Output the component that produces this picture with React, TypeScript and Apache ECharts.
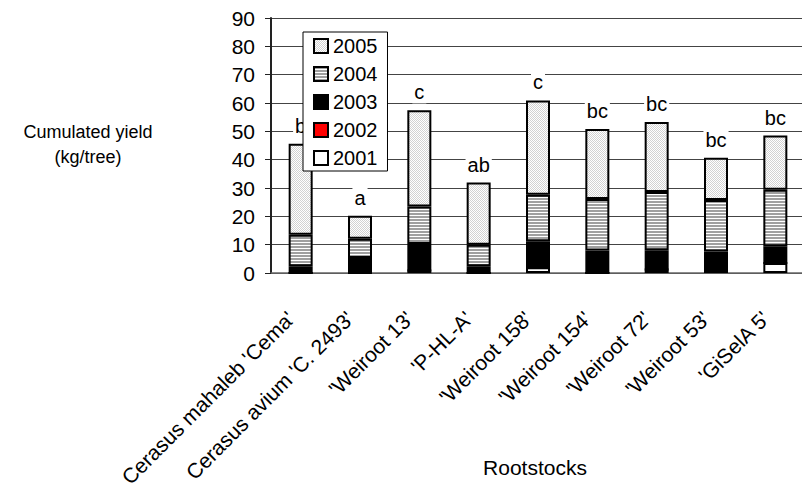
import React, { useEffect, useRef } from 'react';
import * as echarts from 'echarts';

const categories = [
  "Cerasus mahaleb 'Cema'",
  "Cerasus avium 'C. 2493'",
  "'Weiroot 13'",
  "'P-HL-A'",
  "'Weiroot 158'",
  "'Weiroot 154'",
  "'Weiroot 72'",
  "'Weiroot 53'",
  "'GiSelA 5'",
];
const years = ['2001', '2002', '2003', '2004', '2005'];
const y2001 = [0, 0, 0.9, 0, 2.0, 0, 1.2, 0.8, 3.5];
const y2002 = [0, 0, 0, 0, 0, 0, 0, 0, 0];
const y2003 = [2.4, 5.3, 9.3, 2.4, 9.2, 7.9, 6.8, 6.8, 5.9];
const y2004 = [11.1, 6.8, 13.3, 7.6, 16.4, 18.2, 20.6, 18.2, 20.0];
const y2005 = [32.1, 8.1, 33.9, 21.9, 33.3, 24.7, 24.7, 14.9, 19.1];
const letters = ['b', 'a', 'c', 'ab', 'c', 'bc', 'bc', 'bc', 'bc'];
const legendOrder = ['2005', '2004', '2003', '2002', '2001'];

const FONT = "'Liberation Sans', Arial, sans-serif";

function makePattern(w: number, h: number, draw: (ctx: CanvasRenderingContext2D) => void) {
  const c = document.createElement('canvas');
  c.width = w;
  c.height = h;
  const ctx = c.getContext('2d') as CanvasRenderingContext2D;
  draw(ctx);
  return { image: c.toDataURL(), repeat: 'repeat', imageWidth: w, imageHeight: h };
}

export default function App() {
  const ref = useRef<HTMLDivElement>(null);
  useEffect(() => {
    if (!ref.current) return;
    const chart = echarts.init(ref.current, null, { renderer: 'svg' });

    const dotted = makePattern(2, 2, (ctx) => {
      ctx.fillStyle = '#ffffff';
      ctx.fillRect(0, 0, 2, 2);
      ctx.fillStyle = '#d2d2d2';
      ctx.fillRect(0, 0, 1, 1);
      ctx.fillRect(1, 1, 1, 1);
    });
    const striped = makePattern(4, 3, (ctx) => {
      ctx.fillStyle = '#ffffff';
      ctx.fillRect(0, 0, 4, 3);
      ctx.fillStyle = '#a0a0a0';
      ctx.fillRect(0, 0, 4, 2);
    });

    const fills: Record<string, any> = {
      '2001': '#ffffff',
      '2002': '#ff0000',
      '2003': '#000000',
      '2004': striped,
      '2005': dotted,
    };
    const values: Record<string, number[]> = {
      '2001': y2001,
      '2002': y2002,
      '2003': y2003,
      '2004': y2004,
      '2005': y2005,
    };

    const series = years.map((yr) => ({
      name: yr,
      type: 'bar',
      stack: 'total',
      barWidth: 24,
      data: values[yr],
      itemStyle: { color: fills[yr], borderColor: '#000', borderWidth: 2 },
      label:
        yr === '2005'
          ? {
              show: true,
              position: 'top',
              distance: 7,
              formatter: (p: any) => letters[p.dataIndex],
              fontSize: 20,
              fontFamily: FONT,
              color: '#000',
              backgroundColor: '#fff',
              padding: [1, 2],
            }
          : { show: false },
      emphasis: { disabled: true },
    }));

    chart.setOption({
      animation: false,
      backgroundColor: '#fff',
      grid: {
        left: 271,
        top: 18,
        width: 534,
        height: 255,
        containLabel: false,
        outerBoundsMode: 'none',
      },
      legend: {
        orient: 'vertical',
        left: 303,
        top: 32,
        data: legendOrder,
        icon: 'rect',
        itemWidth: 14,
        itemHeight: 14,
        itemGap: 8,
        padding: [4, 10, 3, 10],
        backgroundColor: '#fff',
        borderColor: '#000',
        borderWidth: 1,
        borderRadius: 0,
        selectedMode: false,
        textStyle: { fontSize: 20, lineHeight: 20, color: '#000', fontFamily: FONT },
      },
      xAxis: {
        type: 'category',
        data: categories,
        axisLine: { lineStyle: { color: '#666', width: 1.5 } },
        axisTick: { length: 7, lineStyle: { color: '#666' } },
        axisLabel: {
          rotate: 45,
          interval: 0,
          fontSize: 21,
          fontFamily: FONT,
          color: '#000',
          margin: 32,
          padding: [0, 14, 0, 0],
        },
      },
      yAxis: {
        type: 'value',
        min: 0,
        max: 90,
        interval: 10,
        axisLine: { show: true, lineStyle: { color: '#222', width: 2 } },
        axisTick: { show: true, length: 6, lineStyle: { color: '#222' } },
        axisLabel: { fontSize: 21, fontFamily: FONT, color: '#000', margin: 16 },
        splitLine: { lineStyle: { color: '#444', width: 1 } },
      },
      graphic: [
        {
          type: 'text',
          left: 22,
          top: 119,
          style: {
            text: 'Cumulated yield\n(kg/tree)',
            fontSize: 18,
            lineHeight: 25,
            fontFamily: FONT,
            fill: '#000',
            textAlign: 'center',
            width: 132,
          },
        },
        {
          type: 'text',
          x: 535,
          y: 467,
          style: {
            text: 'Rootstocks',
            fontSize: 21,
            fontFamily: FONT,
            fill: '#000',
            textAlign: 'center',
            textVerticalAlign: 'middle',
          },
        },
      ],
      series,
    });
    return () => chart.dispose();
  }, []);
  return (
    <div
      ref={ref}
      style={{ position: 'fixed', left: 0, top: 0, width: 802, height: 492, background: '#fff' }}
    />
  );
}
